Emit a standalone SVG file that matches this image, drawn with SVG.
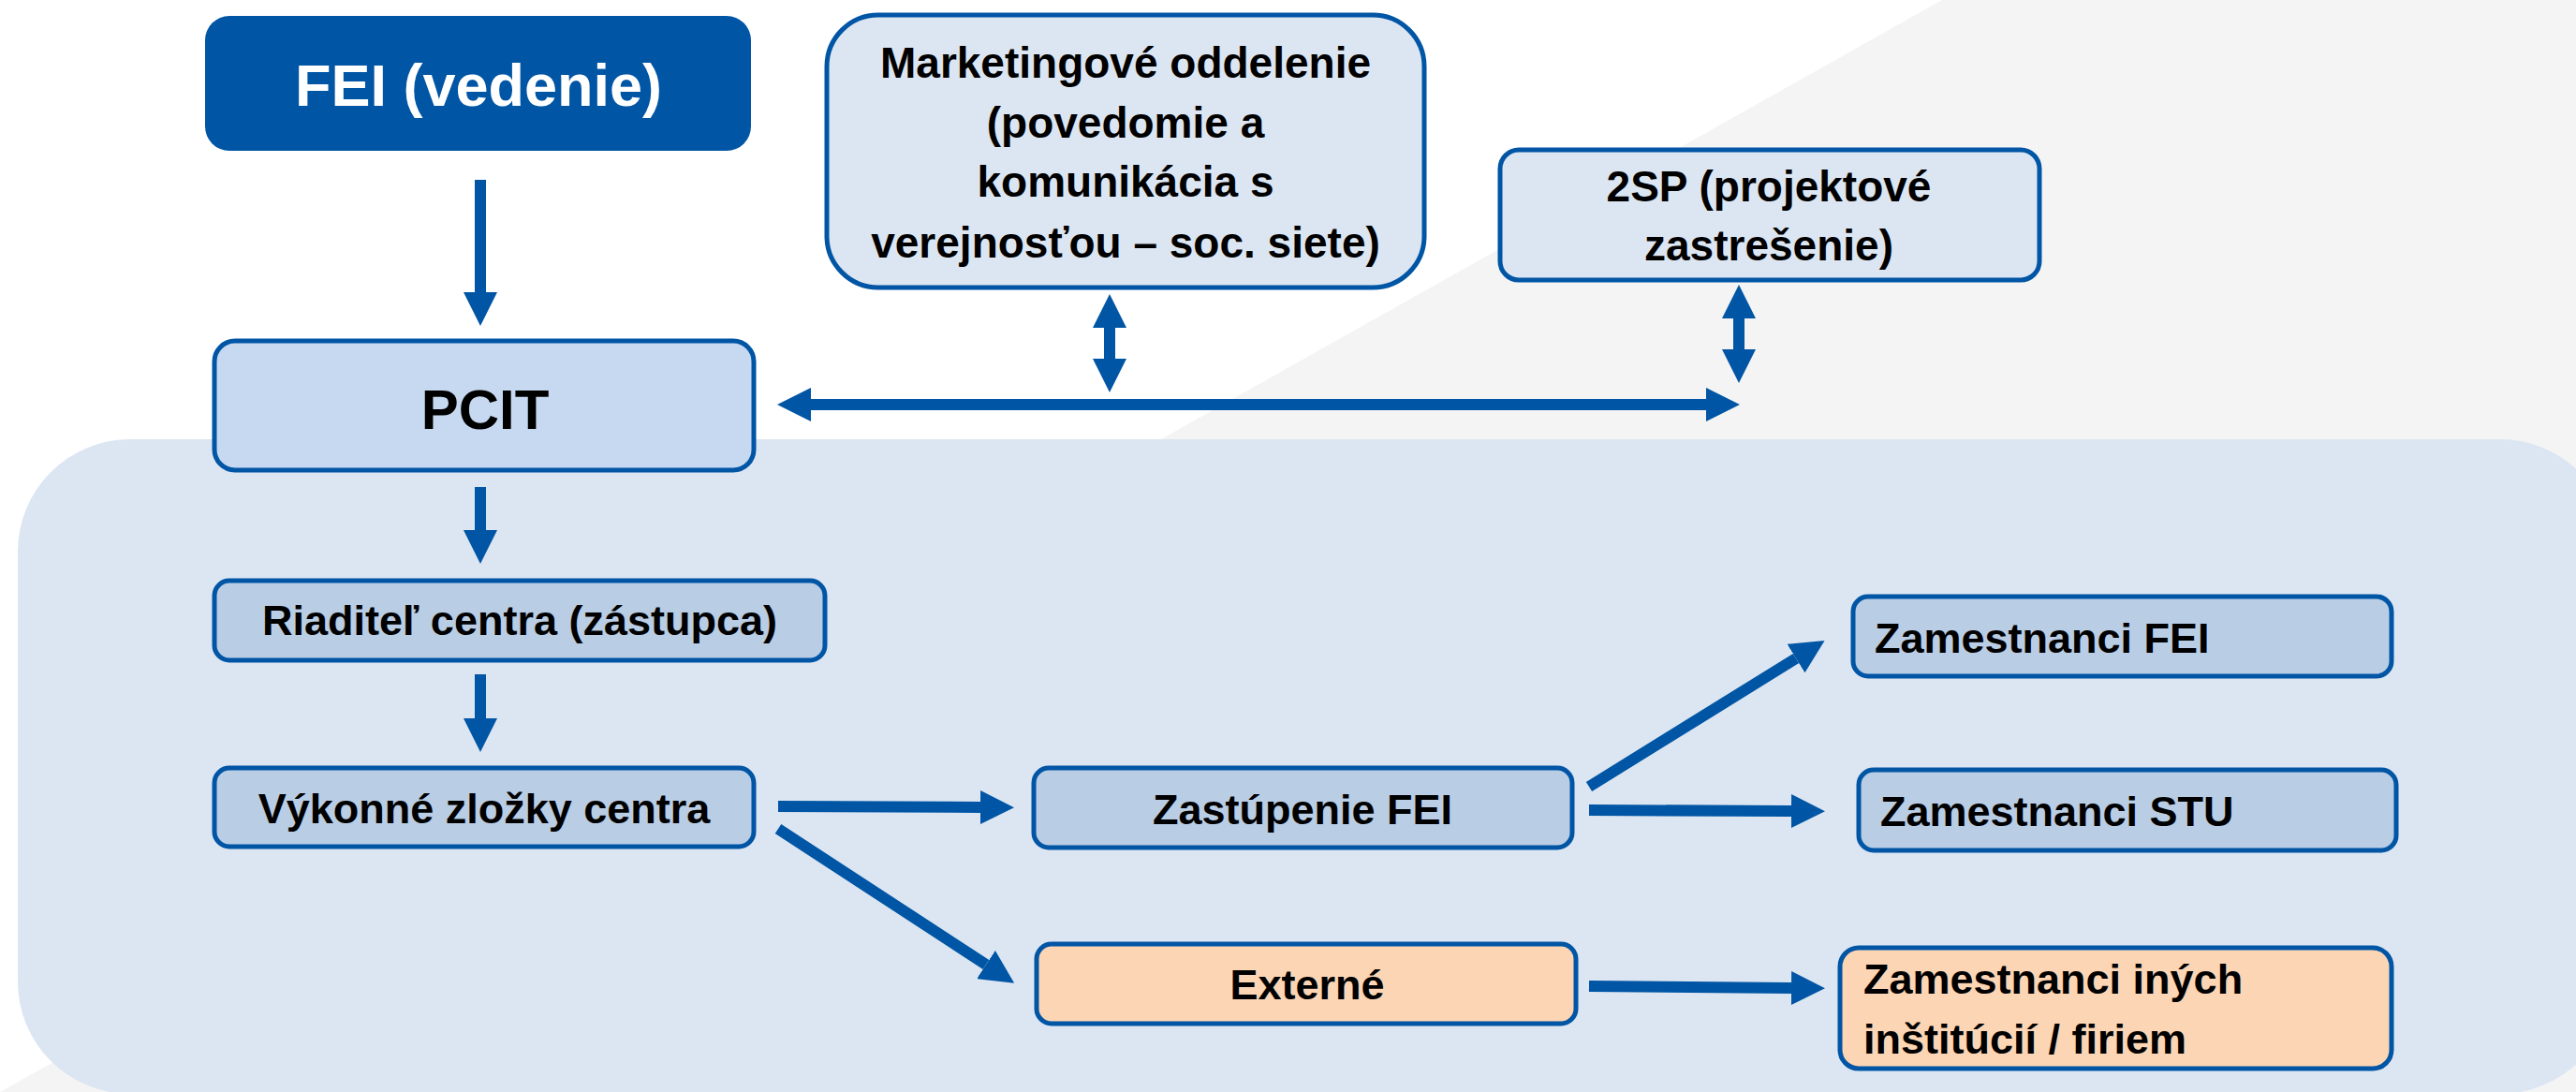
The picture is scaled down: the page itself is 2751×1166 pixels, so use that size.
<svg xmlns="http://www.w3.org/2000/svg" width="2751" height="1166" viewBox="0 0 2751 1166">
<defs>
<style>
.box{stroke:#0055A5;stroke-width:5}
.light{fill:#DCE6F2}
.mid{fill:#C6D9F1}
.blue{fill:#B9CDE5}
.peach{fill:#FCD5B5}
text{font-family:"Liberation Sans",Arial,sans-serif;font-weight:bold;fill:#000}
.c{text-anchor:middle}
.t45{font-size:45px}
.t46{font-size:46px}
.conn{stroke:#0055A5;stroke-width:12;fill:none}
</style>
<marker id="ah" viewBox="0 0 36 36" refX="0" refY="18" markerWidth="36" markerHeight="36" markerUnits="userSpaceOnUse" orient="auto-start-reverse">
<path d="M0,0 L36,18 L0,36 z" fill="#0055A5"/>
</marker>
</defs>
<rect width="2751" height="1166" fill="#FFFFFF"/>
<polygon points="2074,0 2751,0 2751,1166 0,1166" fill="#F4F4F4"/>
<rect x="19" y="469" width="2771" height="699" rx="120" fill="#DCE6F2"/>

<g id="connectors">
<line class="conn" x1="513" y1="192" x2="513" y2="312" marker-end="url(#ah)"/>
<line class="conn" x1="513" y1="520" x2="513" y2="566" marker-end="url(#ah)"/>
<line class="conn" x1="513" y1="720" x2="513" y2="767" marker-end="url(#ah)"/>
<line class="conn" x1="866" y1="432" x2="1822" y2="432" marker-start="url(#ah)" marker-end="url(#ah)"/>
<line class="conn" x1="1185" y1="350" x2="1185" y2="383" marker-start="url(#ah)" marker-end="url(#ah)"/>
<line class="conn" x1="1857" y1="340" x2="1857" y2="373" marker-start="url(#ah)" marker-end="url(#ah)"/>
<line class="conn" x1="831" y1="861" x2="1047" y2="862" marker-end="url(#ah)"/>
<line class="conn" x1="831" y1="885" x2="1053" y2="1030" marker-end="url(#ah)"/>
<line class="conn" x1="1697" y1="840" x2="1918" y2="703" marker-end="url(#ah)"/>
<line class="conn" x1="1697" y1="865" x2="1913" y2="866" marker-end="url(#ah)"/>
<line class="conn" x1="1697" y1="1053" x2="1913" y2="1055" marker-end="url(#ah)"/>
</g>

<g id="fei">
<rect x="219" y="17" width="583" height="144" rx="26" fill="#0055A5"/>
<text class="c" x="511" y="113" font-size="63" style="fill:#FFFFFF">FEI (vedenie)</text>
</g>
<g id="marketing">
<rect class="box light" x="883" y="16" width="638" height="291" rx="55"/>
<text class="c t46" x="1202" y="83">Marketingové oddelenie</text>
<text class="c t46" x="1202" y="147">(povedomie a</text>
<text class="c t46" x="1202" y="210">komunikácia s</text>
<text class="c t46" x="1202" y="275">verejnosťou – soc. siete)</text>
</g>
<g id="sp2">
<rect class="box light" x="1602" y="160" width="576" height="139" rx="20"/>
<text class="c t46" x="1889" y="215">2SP (projektové</text>
<text class="c t46" x="1889" y="278">zastrešenie)</text>
</g>
<g id="pcit">
<rect class="box mid" x="229" y="364" width="576" height="138" rx="22"/>
<text class="c" x="518" y="458" font-size="60">PCIT</text>
</g>
<g id="riaditel">
<rect class="box blue" x="229" y="620" width="652" height="85" rx="16"/>
<text class="c t45" x="555" y="678">Riaditeľ centra (zástupca)</text>
</g>
<g id="vykonne">
<rect class="box blue" x="229" y="820" width="576" height="84" rx="16"/>
<text class="c t45" x="517" y="879">Výkonné zložky centra</text>
</g>
<g id="zastupenie">
<rect class="box blue" x="1104" y="820" width="575" height="85" rx="16"/>
<text class="c t45" x="1391" y="880">Zastúpenie FEI</text>
</g>
<g id="externe">
<rect class="box peach" x="1107" y="1008" width="576" height="85" rx="16"/>
<text class="c t45" x="1396" y="1067">Externé</text>
</g>
<g id="zam-fei">
<rect class="box blue" x="1979" y="637" width="575" height="85" rx="16"/>
<text class="t45" x="2002" y="697">Zamestnanci FEI</text>
</g>
<g id="zam-stu">
<rect class="box blue" x="1985" y="822" width="574" height="86" rx="16"/>
<text class="t45" x="2008" y="882">Zamestnanci STU</text>
</g>
<g id="zam-inych">
<rect class="box peach" x="1965" y="1012" width="589" height="129" rx="20"/>
<text class="t45" x="1990" y="1061">Zamestnanci iných</text>
<text class="t45" x="1990" y="1125">inštitúcií / firiem</text>
</g>
</svg>
